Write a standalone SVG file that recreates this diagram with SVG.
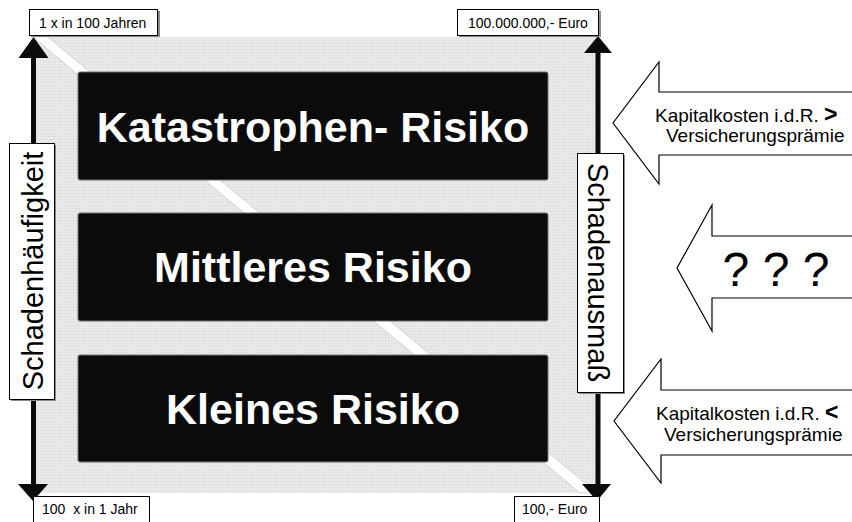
<svg xmlns="http://www.w3.org/2000/svg" width="852" height="522" viewBox="0 0 852 522">
  <style>
    .lbl { font-family: "Liberation Sans", Arial, sans-serif; fill: #000; }
    .small { font-size: 14px; }
    .side { font-size: 29px; }
    .risk { font-family: "Liberation Sans", Arial, sans-serif; font-size: 43px; font-weight: bold; fill: #fff; }
    .box { fill: #fff; stroke: #000; stroke-width: 1; }
    .shadow { fill: #8a8a8a; }
    .riskbox { fill: #0b0b0b; stroke: #707070; stroke-width: 1; }
    .blk { fill: #fff; stroke: #000; stroke-width: 1.2; stroke-linejoin: miter; }
    .axis { stroke: #0b0b0b; stroke-width: 5; }
    .head { fill: #0b0b0b; }
    .arrtxt { font-family: "Liberation Sans", Arial, sans-serif; font-size: 19px; fill: #000; }
  </style>
  <defs>
    <pattern id="dots" width="3" height="3" patternUnits="userSpaceOnUse">
      <rect width="3" height="3" fill="#e9e9e9"/>
      <rect x="1" y="1" width="1" height="1" fill="#d3d3d3"/>
    </pattern>
  </defs>

  <!-- background field with diagonal band -->
  <g id="field">
    <rect x="33" y="37" width="564" height="456" fill="url(#dots)"/>
    <polygon points="33,37 48,37 597,493 580,493" fill="#fff" stroke="#c8c8c8" stroke-width="0.8"/>
  </g>

  <!-- risk categories -->
  <g id="risk-high">
    <rect class="riskbox" x="78" y="72" width="470" height="108" rx="2"/>
    <text class="risk" x="313" y="142" text-anchor="middle">Katastrophen- Risiko</text>
  </g>
  <g id="risk-medium">
    <rect class="riskbox" x="78" y="213" width="470" height="108" rx="2"/>
    <text class="risk" x="313" y="282" text-anchor="middle">Mittleres Risiko</text>
  </g>
  <g id="risk-low">
    <rect class="riskbox" x="78" y="355" width="470" height="107" rx="2"/>
    <text class="risk" x="313" y="424" text-anchor="middle">Kleines Risiko</text>
  </g>

  <!-- axes along both sides -->
  <g id="connectors">
    <line class="axis" x1="33.5" y1="55" x2="33.5" y2="486"/>
    <polygon class="head" points="33.5,37 18.5,58 48.5,58"/>
    <polygon class="head" points="33,501 18,484 48,484"/>
    <line class="axis" x1="598" y1="50" x2="598" y2="486"/>
    <polygon class="head" points="598,36 584,53 612,53"/>
    <polygon class="head" points="597,501 582,484 611,484"/>
  </g>

  <!-- axis end labels -->
  <g id="freq-top">
    <rect class="shadow" x="31" y="11" width="129" height="26"/>
    <rect class="box" x="29.5" y="9.5" width="128" height="26"/>
    <text class="lbl small" x="39" y="28">1 x in 100 Jahren</text>
  </g>
  <g id="amount-top">
    <rect class="shadow" x="459" y="11" width="142" height="26"/>
    <rect class="box" x="457.5" y="9.5" width="141" height="26"/>
    <text class="lbl small" x="468" y="28">100.000.000,- Euro</text>
  </g>
  <g id="freq-bottom">
    <rect class="box" x="33.5" y="496.5" width="116" height="30"/>
    <text class="lbl small" x="42" y="514" xml:space="preserve">100  x in 1 Jahr</text>
  </g>
  <g id="amount-bottom">
    <rect class="box" x="514.5" y="496.5" width="85" height="30"/>
    <text class="lbl small" x="522" y="514">100,- Euro</text>
  </g>

  <!-- side captions -->
  <g id="axis-frequency">
    <rect class="shadow" x="11" y="145" width="45" height="256"/>
    <rect class="box" x="9.5" y="143.5" width="45" height="256"/>
    <text class="lbl side" transform="translate(43,271) rotate(-90)" text-anchor="middle">Schadenhäufigkeit</text>
  </g>
  <g id="axis-amount">
    <rect class="shadow" x="579" y="155" width="46" height="239"/>
    <rect class="box" x="577.5" y="153.5" width="46" height="239"/>
    <text class="lbl side" transform="translate(588,272.5) rotate(90)" text-anchor="middle">Schadenausmaß</text>
  </g>

  <!-- block arrows on the right -->
  <g id="note-high">
    <path class="blk" d="M860,92 H659 V62 L613,123 L659,184 V155 H860"/>
    <text class="arrtxt" x="655" y="122">Kapitalkosten i.d.R. <tspan font-weight="bold" font-size="23px">&gt;</tspan></text>
    <text class="arrtxt" x="666" y="142">Versicherungsprämie</text>
  </g>
  <g id="note-medium">
    <path class="blk" d="M860,236 H712 V205 L677,268 L712,331 V298 H860"/>
    <text class="lbl" x="776" y="286" font-size="48px" text-anchor="middle">? ? ?</text>
  </g>
  <g id="note-low">
    <path class="blk" d="M860,390 H661 V359 L614,421 L661,483 V455 H860"/>
    <text class="arrtxt" x="656" y="420">Kapitalkosten i.d.R. <tspan font-weight="bold" font-size="23px">&lt;</tspan></text>
    <text class="arrtxt" x="664" y="441">Versicherungsprämie</text>
  </g>
</svg>
